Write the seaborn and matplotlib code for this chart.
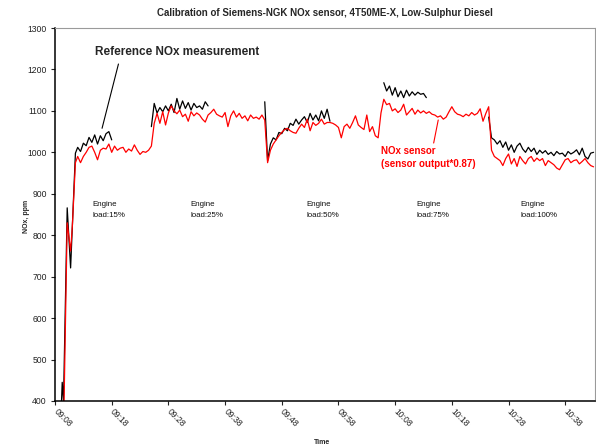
import numpy as np
import pandas as pd
import seaborn as sns
import matplotlib.pyplot as plt

sns.set_style('ticks')
plt.rcParams['font.family'] = ['Liberation Sans', 'DejaVu Sans']

# time axis: minutes after 09:08, one logged sample every half minute
SAMPLE = 0.5
time_ticks = [0, 10, 20, 30, 40, 50, 60, 70, 80, 90]
time_labels = ['09:08', '09:18', '09:28', '09:38', '09:48',
               '09:58', '10:08', '10:18', '10:28', '10:38']
load_names = ['15%', '25%', '50%', '75%', '100%']

# engine start-up (irregular samples)
startup_ref_time = [1.15, 1.27, 1.5, 2.15, 2.75, 3.6]
startup_ref_ppm = [400, 445, 400, 866, 721, 998]
startup_sensor_time = [1.6, 2.15, 2.75, 3.05, 3.6]
startup_sensor_ppm = [400, 830, 762, 820, 975]

# NOx sensor (output * 0.87), continuous from t = 4.0 min
sensor_15 = [990, 975, 990, 1000, 1012, 1015, 1000, 982, 1005, 1010, 1008, 1020, 1000,
             1015, 1005, 1010, 1012, 1000, 1008, 1003, 1018, 1005, 995, 1002, 1000, 1005]
sensor_25 = [1015, 1070, 1094, 1070, 1098, 1066, 1095, 1112, 1100, 1093, 1102, 1086, 1092,
             1075, 1098, 1088, 1095, 1090, 1080, 1073, 1090, 1096, 1104, 1092, 1088, 1085,
             1096, 1062, 1088, 1100, 1085, 1094, 1082, 1088, 1076, 1090, 1082, 1085, 1080,
             1090, 1078]
sensor_50 = [975, 1005, 1020, 1030, 1040, 1048, 1055, 1058, 1052, 1048, 1046, 1058, 1068,
             1060, 1080, 1052, 1072, 1065, 1070, 1080, 1068, 1072, 1072, 1070, 1066, 1060,
             1035, 1062, 1068, 1058, 1072, 1088, 1066, 1060, 1055, 1090, 1050, 1062, 1040,
             1035]
sensor_75 = [1095, 1128, 1115, 1118, 1100, 1105, 1096, 1102, 1116, 1090, 1098, 1106, 1092,
             1102, 1095, 1100, 1094, 1098, 1092, 1090, 1085, 1088, 1080, 1085, 1098, 1110,
             1098, 1092, 1090, 1086, 1092, 1088, 1096, 1090, 1094, 1105, 1075, 1094, 1110]
sensor_100 = [1005, 990, 985, 980, 968, 985, 996, 972, 985, 966, 990, 980, 972, 985, 990,
              978, 986, 980, 985, 968, 980, 975, 970, 962, 958, 970, 982, 985, 975, 980,
              982, 972, 978, 985, 975, 968, 965]

# reference NOx analyser, logged only in parts of each load step
ref_15 = [1012, 1002, 1022, 1016, 1036, 1024, 1042, 1020, 1040, 1028, 1045, 1050, 1030]
ref_25 = [1062, 1118, 1095, 1108, 1098, 1112, 1100, 1116, 1096, 1130, 1104, 1124, 1106,
          1120, 1102, 1118, 1108, 1112, 1104, 1122, 1112]
ref_50 = [1122, 980, 1020, 1035, 1030, 1048, 1045, 1058, 1052, 1070, 1065, 1080, 1068,
          1078, 1086, 1072, 1094, 1078, 1090, 1076, 1100, 1082, 1104, 1075]
ref_75 = [1168, 1148, 1160, 1138, 1156, 1134, 1148, 1132, 1150, 1136, 1146, 1138, 1145,
          1140, 1142, 1132]
ref_100 = [1085, 1035, 1030, 1020, 1028, 1012, 1025, 1005, 1018, 1000, 1015, 1022, 1008,
           1000, 1012, 1002, 1010, 995, 1005, 998, 1004, 995, 1000, 992, 1002, 996, 998,
           990, 1002, 996, 1000, 1006, 994, 1010, 990, 984, 998, 1000]


def piece(series, unit, start, values):
    t = start + SAMPLE * np.arange(len(values))
    return pd.DataFrame({'time': t, 'ppm': values, 'series': series, 'unit': unit})


frames = [
    pd.DataFrame({'time': startup_sensor_time, 'ppm': startup_sensor_ppm,
                  'series': 'NOx sensor', 'unit': 's'}),
    piece('NOx sensor', 's', 4.0, sensor_15),
    piece('NOx sensor', 's', 17.0, sensor_25),
    piece('NOx sensor', 's', 37.5, sensor_50),
    piece('NOx sensor', 's', 57.5, sensor_75),
    piece('NOx sensor', 's', 77.0, sensor_100),
    pd.DataFrame({'time': startup_ref_time, 'ppm': startup_ref_ppm,
                  'series': 'Reference', 'unit': 'r1'}),
    piece('Reference', 'r1', 4.0, ref_15),
    piece('Reference', 'r2', 17.0, ref_25),
    piece('Reference', 'r3', 37.0, ref_50),
    piece('Reference', 'r4', 58.0, ref_75),
    piece('Reference', 'r5', 76.5, ref_100),
]
df = pd.concat(frames, ignore_index=True)

fig = plt.figure(figsize=(5.96, 4.48), dpi=100)
ax = fig.add_axes([0.0923, 0.105, 0.9055, 0.8325])

sns.lineplot(data=df, x='time', y='ppm', hue='series', units='unit', estimator=None,
             hue_order=['Reference', 'NOx sensor'],
             palette={'Reference': 'black', 'NOx sensor': '#ff0000'},
             linewidth=0.9, legend=False, ax=ax)

ax.set_xlim(0, 95.2)
ax.set_ylim(400, 1300)
ax.set_yticks(range(400, 1301, 100))
ax.set_xticks(time_ticks)
ax.set_xticklabels(time_labels, rotation=-45, ha='left', va='center',
                   rotation_mode='anchor')
ax.tick_params(axis='both', labelsize=6.2, length=3, width=0.8, colors='#222222',
               direction='out')
ax.tick_params(axis='x', pad=4)
ax.tick_params(axis='y', pad=3)

for s in ['left', 'bottom']:
    ax.spines[s].set_color('black')
    ax.spines[s].set_linewidth(1.1)
for s in ['top', 'right']:
    ax.spines[s].set_color('#9a9a9a')
    ax.spines[s].set_linewidth(0.8)

ax.set_xlabel('Time', fontsize=5, fontweight='bold')
ax.set_ylabel('NOx, ppm', fontsize=5, fontweight='bold')
ax.xaxis.set_label_coords(0.4955, -0.102)
ax.yaxis.set_label_coords(-0.047, 0.496)
ax.set_title('Calibration of Siemens-NGK NOx sensor, 4T50ME-X, Low-Sulphur Diesel',
             fontsize=7, fontweight='bold', pad=9)

# annotations
ax.annotate('Reference NOx measurement', xy=(8.3, 1058), xytext=(21.6, 1242),
            fontsize=8.5, fontweight='bold', ha='center', va='center',
            arrowprops=dict(arrowstyle='-', color='black', lw=0.8, shrinkA=2, shrinkB=0,
                            relpos=(0.15, 0.0)))
ax.annotate('NOx sensor\n(sensor output*0.87)', xy=(67.6, 1078), xytext=(57.5, 987),
            fontsize=7, fontweight='bold', color='#ff0000', ha='left', va='center',
            linespacing=1.35,
            arrowprops=dict(arrowstyle='-', color='#ff0000', lw=0.8, shrinkA=0, shrinkB=0,
                            relpos=(0.55, 1.0)))

for x0, name in zip([6.6, 23.9, 44.3, 63.8, 82.1], load_names):
    ax.text(x0, 860, 'Engine\nload:' + name, fontsize=5.7, ha='left', va='center',
            linespacing=1.75, color='#111111')

fig.savefig('out.png', dpi=100)
